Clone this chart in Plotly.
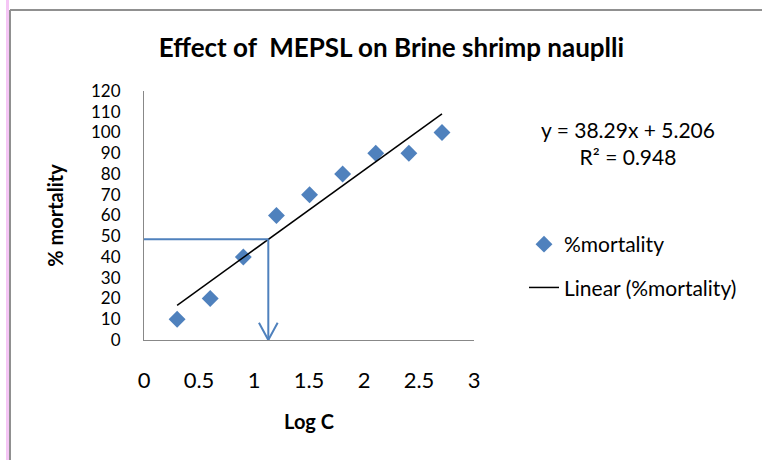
import plotly.graph_objects as go

# Data
log_c = [0.301, 0.602, 0.903, 1.204, 1.505, 1.806, 2.107, 2.408, 2.709]
mortality = [10, 20, 40, 60, 70, 80, 90, 90, 100]
slope = 38.29
intercept = 5.206
r2 = 0.948
lc50_x = 1.13
lc50_y = 48.5
x_ticks = [0, 0.5, 1, 1.5, 2, 2.5, 3]
y_ticks = [0, 10, 20, 30, 40, 50, 60, 70, 80, 90, 100, 110, 120]

FONT = "Lato"
BLUE = "#4F81BD"

trend_x = [min(log_c), max(log_c)]
trend_y = [slope * v + intercept for v in trend_x]

fig = go.Figure()
fig.add_trace(go.Scatter(
    x=log_c, y=mortality, mode="markers", name="%mortality",
    marker=dict(symbol="diamond", size=13, color=BLUE),
    legendgroup="a",
))
fig.add_trace(go.Scatter(
    x=trend_x, y=trend_y, mode="lines", name="Linear (%mortality)",
    line=dict(color="black", width=1.5),
    legendgroup="b",
))

# LC50 guide lines
shapes = [
    dict(type="line", xref="x", yref="y", x0=0, y0=lc50_y, x1=lc50_x, y1=lc50_y,
         line=dict(color=BLUE, width=2)),
    dict(type="line", xref="x", yref="y", x0=lc50_x, y0=lc50_y, x1=lc50_x, y1=0,
         line=dict(color=BLUE, width=2)),
    dict(type="path", xref="x", yref="y",
         path=f"M{lc50_x-0.085},8.3 L{lc50_x},0 L{lc50_x+0.085},8.3",
         line=dict(color=BLUE, width=2)),
    # chart frame fragments
    dict(type="line", xref="paper", yref="paper",
         x0=(7.5 - 144) / 330, x1=(7.5 - 144) / 330, y0=-0.5, y1=1.5,
         line=dict(color="#F5C6F5", width=3)),
    dict(type="line", xref="paper", yref="paper",
         x0=(10 - 144) / 330, x1=(10 - 144) / 330, y0=-0.5, y1=(340 - 10) / 249,
         line=dict(color="#909090", width=2)),
    dict(type="line", xref="paper", yref="paper",
         x0=(10 - 144) / 330, x1=2.0, y0=(340 - 10) / 249, y1=(340 - 10) / 249,
         line=dict(color="#909090", width=2)),
]

fig.update_layout(
    width=762, height=460,
    margin=dict(l=144, r=288, t=91, b=120),
    paper_bgcolor="white", plot_bgcolor="white",
    font=dict(family=FONT, size=21, color="black"),
    title=dict(text="<b>Effect of  MEPSL on Brine shrimp nauplli</b>",
               x=(391.5 - 144) / 330, xref="paper", xanchor="center",
               y=1 - 48 / 460, yref="container", yanchor="middle",
               automargin=False,
               font=dict(family=FONT, size=26, color="black")),
    xaxis=dict(range=[0, 3], tickvals=x_ticks, ticktext=[str(v) for v in x_ticks],
               showgrid=False, zeroline=False, showline=True, linecolor="#888888",
               linewidth=1, ticks="", ticklabelstandoff=21, automargin=False,
               tickfont=dict(size=22),
               title=dict(text="<b>Log C</b>", standoff=22,
                          font=dict(family=FONT, size=20))),
    yaxis=dict(range=[0, 120], tickvals=y_ticks,
               showgrid=False, zeroline=False, showline=True, linecolor="#888888",
               linewidth=1, ticks="", ticklabelstandoff=19, automargin=False,
               tickfont=dict(size=17),
               title=dict(text="<b>% mortality</b>", standoff=22,
                          font=dict(family=FONT, size=20))),
    legend=dict(x=(524 - 144) / 330, y=(340 - 224) / 249, xanchor="left", yanchor="top",
                font=dict(family=FONT, size=21), traceorder="grouped",
                tracegroupgap=13, bgcolor="rgba(0,0,0,0)"),
    shapes=shapes,
    annotations=[dict(
        text="y = 38.29x + 5.206<br>R² = 0.948",
        xref="paper", yref="paper", x=(628 - 144) / 330, y=(340 - 143) / 249,
        xanchor="center", yanchor="middle", align="center", showarrow=False,
        font=dict(family=FONT, size=21),
    )],
)

fig.write_html("out.html", config={"displayModeBar": False},
               post_script="document.body.style.margin='0';")
